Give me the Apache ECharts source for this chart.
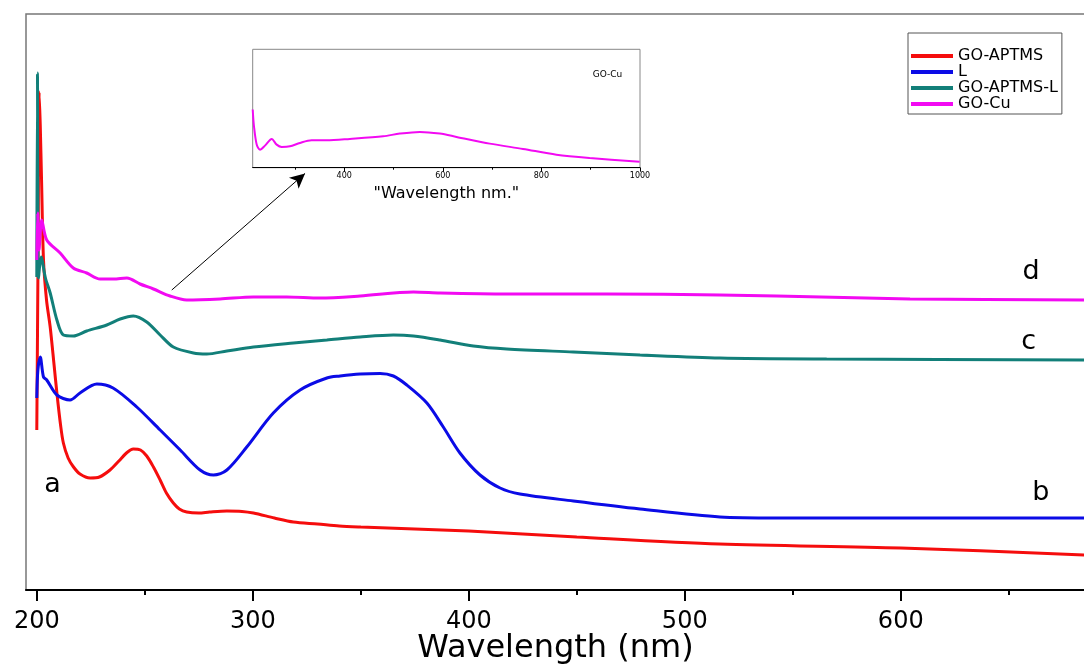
<!DOCTYPE html>
<html>
<head>
<meta charset="utf-8">
<script src="https://cdn.jsdelivr.net/npm/echarts@6/dist/echarts.min.js"></script>
<style>
  html, body { margin: 0; padding: 0; background: #fff; }
  #chart { width: 1084px; height: 667px; }
</style>
</head>
<body>
<div id="chart"></div>
<script>
// UV-Vis absorption spectra, absorbance (a.u.) against wavelength (nm)
const FONT = 'DejaVu Sans';

// main axis ticks
const wavelengthTicks = [200, 300, 400, 500, 600];
const wavelengthMinorTicks = [250, 350, 450, 550, 650];

// inset axis ticks
const insetTicks = [400, 600, 800, 1000];
const insetMinorTicks = [300, 500, 700, 900];

// series names (legend order)
const seriesNames = ['GO-APTMS', 'L', 'GO-APTMS-L', 'GO-Cu'];
const curveLetters = ['a', 'b', 'c', 'd'];

// [wavelength nm, absorbance]
const goAptms = [[200,0.800],[200.6,1.700],[201.1,2.490],[201.6,2.325],[202.2,2.050],[203.1,1.650],[204.5,1.450],[206.2,1.315],[208,1.125],[209.3,0.985],[211,0.825],[212.3,0.735],[214.5,0.660],[217,0.615],[220,0.580],[224.7,0.560],[229,0.565],[233.9,0.600],[238,0.645],[241.5,0.685],[244.7,0.705],[248,0.700],[250.9,0.670],[254,0.615],[257.1,0.550],[260,0.485],[263.2,0.435],[266,0.405],[269.4,0.390],[275,0.385],[280,0.390],[288,0.395],[295,0.393],[300.3,0.385],[310,0.360],[318.8,0.340],[330,0.330],[340,0.320],[350,0.315],[400,0.295],[450,0.265],[516,0.230],[600,0.210],[685,0.175]];

const ligandL = [[200,0.960],[200.5,1.100],[201.6,1.165],[203.1,1.065],[204.6,1.050],[209.3,0.975],[215.4,0.950],[220,0.985],[227.8,1.030],[235.3,1.010],[246.3,0.915],[257.1,0.800],[266.4,0.700],[275.6,0.600],[281.8,0.575],[288,0.600],[297.2,0.715],[309.5,0.885],[321.9,1.000],[334.3,1.060],[340.4,1.070],[349.7,1.080],[358.9,1.083],[365.1,1.070],[371.3,1.025],[380.6,0.935],[388.2,0.815],[395.9,0.685],[405.2,0.575],[414.5,0.510],[423.7,0.480],[448.4,0.445],[479.3,0.405],[516.3,0.365],[542.6,0.360],[685,0.360]];

const goAptmsL = [[200,1.565],[200.3,2.585],[200.8,1.560],[202,1.665],[204,1.560],[206.2,1.485],[209.3,1.350],[212.3,1.275],[216.9,1.270],[223.1,1.295],[232.4,1.325],[238.6,1.355],[244.7,1.370],[250.9,1.340],[257.1,1.275],[263.2,1.215],[272.5,1.185],[278.7,1.180],[288,1.195],[300.3,1.215],[318.8,1.235],[334.3,1.250],[349.7,1.265],[365.1,1.275],[374.4,1.270],[386.7,1.250],[402.1,1.220],[417.6,1.205],[448.4,1.190],[479.3,1.175],[516.3,1.160],[565.7,1.155],[685,1.150]];

const goCu = [[200,1.650],[200.4,1.885],[201,1.700],[202.3,1.850],[204.6,1.750],[210.8,1.685],[216.9,1.610],[223.1,1.585],[229.3,1.555],[235.5,1.555],[241.7,1.560],[247.8,1.530],[254,1.505],[261.7,1.470],[269.4,1.450],[284.9,1.455],[300.3,1.465],[315.7,1.465],[331.1,1.460],[349.7,1.470],[374.4,1.490],[386.7,1.485],[417.6,1.480],[463.9,1.480],[516.3,1.475],[542.6,1.470],[604.3,1.455],[685,1.450]];

// GO-Cu over the full 200-1000 nm range (inset)
const goCuFull = [[214.4,0.580],[217,0.413],[222.5,0.230],[229.2,0.180],[239.3,0.220],[252.9,0.287],[263,0.230],[273.2,0.207],[289.9,0.213],[310.2,0.247],[333.9,0.273],[364.3,0.273],[411.6,0.287],[479,0.313],[512.9,0.340],[553.4,0.357],[593.9,0.340],[627.8,0.307],[695.2,0.240],[762.7,0.187],[830.4,0.130],[897.9,0.097],[999.2,0.060]];

// where the curve letters sit, in data units
const letterAnchors = [[207.3,0.525],[664.9,0.485],[659.2,1.2425],[660.3,1.59]];
// arrow pointing from the GO-Cu curve to the inset
const arrowFrom = [262.5, 1.50];
const arrowTo = [324.2, 2.083];
const insetTag = [934, 0.93];

const colors = ['#f50d0d', '#0b0be6', '#127f79', '#f20af2'];
const mainData = [goAptms, ligandL, goAptmsL, goCu];

const chart = echarts.init(document.getElementById('chart'), null, { renderer: 'canvas' });

const mainSeries = mainData.map((d, i) => {
  const s = {
    name: seriesNames[i],
    type: 'line',
    xAxisIndex: 0,
    yAxisIndex: 0,
    data: d,
    showSymbol: false,
    smooth: 0.3,
    z: 3 + i,
    lineStyle: { color: colors[i], width: 3 },
    itemStyle: { color: colors[i] },
    markPoint: {
      silent: true,
      symbol: 'circle',
      symbolSize: 0,
      label: {
        show: true, position: 'inside', color: '#000',
        fontFamily: FONT, fontSize: 27,
        formatter: () => curveLetters[i]
      },
      data: [{ coord: letterAnchors[i] }]
    }
  };
  if (i === 3) {
    s.markLine = {
      silent: true,
      symbol: ['none', 'arrow'],
      symbolSize: [11, 15],
      label: { show: false },
      lineStyle: { color: '#000', width: 1, type: 'solid' },
      emphasis: { disabled: true },
      data: [[{ coord: arrowFrom }, { coord: arrowTo }]]
    };
  }
  return s;
});

const insetSeries = {
  name: 'GO-Cu',
  type: 'line',
  xAxisIndex: 2,
  yAxisIndex: 1,
  data: goCuFull,
  showSymbol: false,
  smooth: 0.3,
  lineStyle: { color: colors[3], width: 2 },
  itemStyle: { color: colors[3] },
  markPoint: {
    silent: true,
    symbol: 'circle',
    symbolSize: 0,
    label: { show: true, position: 'inside', color: '#000', fontFamily: FONT, fontSize: 9, formatter: 'GO-Cu' },
    data: [{ coord: insetTag }]
  }
};

const option = {
  animation: false,
  backgroundColor: '#fff',
  textStyle: { fontFamily: FONT },
  grid: [
    { left: 26, top: 14, right: -1, bottom: 77, show: true, borderColor: '#777', borderWidth: 1.5,
      containLabel: false, outerBoundsMode: 'none' },
    { left: 252.7, top: 49.3, right: 444, bottom: 499.3, show: true, borderColor: '#888', borderWidth: 1,
      containLabel: false, outerBoundsMode: 'none' }
  ],
  legend: {
    data: seriesNames,
    orient: 'vertical',
    left: 908, top: 33,
    icon: 'rect',
    itemWidth: 42, itemHeight: 4, itemGap: 0,
    padding: [15, 4, 2, 3],
    borderColor: '#555', borderWidth: 1,
    selectedMode: false,
    textStyle: { fontFamily: FONT, fontSize: 16, color: '#000', lineHeight: 16 }
  },
  xAxis: [
    {
      type: 'value', gridIndex: 0, position: 'bottom', min: 195, max: 685.3,
      name: 'Wavelength (nm)', nameLocation: 'middle', nameGap: 43, nameMoveOverlap: false,
      nameTextStyle: { fontFamily: FONT, fontSize: 32, color: '#000', lineHeight: 32 },
      axisLine: { show: true, onZero: false, lineStyle: { color: '#000', width: 2 } },
      axisTick: { show: true, inside: false, length: 11, customValues: wavelengthTicks, lineStyle: { color: '#000', width: 2 } },
      axisLabel: { show: true, customValues: wavelengthTicks, margin: 20, fontFamily: FONT, fontSize: 24, color: '#000',
        formatter: v => String(v) },
      splitLine: { show: false }
    },
    {
      type: 'value', gridIndex: 0, position: 'bottom', offset: 0, min: 195, max: 685.3,
      axisLine: { show: false },
      axisTick: { show: true, inside: false, length: 5, customValues: wavelengthMinorTicks, lineStyle: { color: '#000', width: 2 } },
      axisLabel: { show: false },
      splitLine: { show: false }
    },
    {
      type: 'value', gridIndex: 1, position: 'bottom', min: 214.4, max: 1000,
      name: '"Wavelength nm."', nameLocation: 'middle', nameGap: 18, nameMoveOverlap: false,
      nameTextStyle: { fontFamily: FONT, fontSize: 16, color: '#000' },
      axisLine: { show: true, onZero: false, lineStyle: { color: '#000', width: 1 } },
      axisTick: { show: true, inside: false, length: 4, customValues: insetTicks, lineStyle: { color: '#000', width: 1 } },
      axisLabel: { show: true, customValues: insetTicks, margin: 4, fontFamily: FONT, fontSize: 8, color: '#000',
        formatter: v => String(v) },
      splitLine: { show: false }
    },
    {
      type: 'value', gridIndex: 1, position: 'bottom', offset: 0, min: 214.4, max: 1000,
      axisLine: { show: false },
      axisTick: { show: true, inside: false, length: 2, customValues: insetMinorTicks, lineStyle: { color: '#000', width: 1 } },
      axisLabel: { show: false },
      splitLine: { show: false }
    }
  ],
  yAxis: [
    { type: 'value', gridIndex: 0, min: 0, max: 2.88,
      axisLine: { show: false }, axisTick: { show: false }, axisLabel: { show: false }, splitLine: { show: false } },
    { type: 'value', gridIndex: 1, min: 0, max: 1.18,
      axisLine: { show: false }, axisTick: { show: false }, axisLabel: { show: false }, splitLine: { show: false } }
  ],
  series: mainSeries.concat([insetSeries])
};

chart.setOption(option);
</script>
</body>
</html>
